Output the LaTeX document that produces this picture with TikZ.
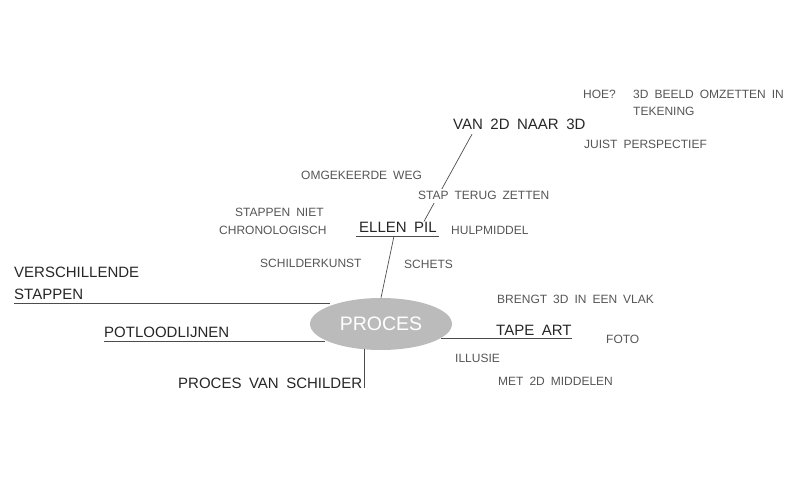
\documentclass[tikz,border=0pt]{standalone}
\usepackage{fontspec}
\setmainfont{Liberation Sans}[WordSpace=1.8]
\usetikzlibrary{shapes.geometric}
\definecolor{procesgrijs}{HTML}{BBBBBB}
\definecolor{notitiegrijs}{HTML}{555555}
\tikzset{
	tak/.style={inner sep=0pt,anchor=base west,font=\fontsize{15}{18}\selectfont,text=black!85},
	notitie/.style={inner sep=0pt,anchor=base west,font=\fontsize{12}{14}\selectfont,text=notitiegrijs},
	onder/.style={text depth=4pt},
	lijn/.style={draw=black!70,line width=0.7pt}
}

\begin{document}
\begin{tikzpicture}[x=1pt,y=-1pt]
	\useasboundingbox (0,0) rectangle (800,497);
	\node[ellipse,fill=procesgrijs,minimum width=142pt,minimum height=52pt,inner sep=0pt,text=white,font=\fontsize{19.5}{22}\selectfont] (proces) at (381,324) {PROCES};
	\node[tak,onder] (ellen) at (359,232) {ELLEN PIL};
	\node[tak,onder] (van) at (453,130) {VAN 2D NAAR 3D};
	\node[tak] (verschil) at (14,277) {VERSCHILLENDE};
	\node[tak,onder] (stappen) at (14,299) {STAPPEN};
	\node[tak,onder] (potlood) at (104,337) {POTLOODLIJNEN};
	\node[tak] (schilder) at (178,388) {PROCES VAN SCHILDER};
	\node[tak,onder] (tape) at (496,335) {TAPE ART};

	\node[notitie] (hoe) at (583,99) {HOE?};
	\node[notitie] (omzetten) at (633,99) {3D BEELD OMZETTEN IN};
	\node[notitie] (tekening) at (633,116) {TEKENING};
	\node[notitie] (juist) at (584,149) {JUIST PERSPECTIEF};
	\node[notitie] (omgekeerd) at (301,179) {OMGEKEERDE WEG};
	\node[notitie] (stappenniet) at (235,216) {STAPPEN NIET};
	\node[notitie] (chrono) at (219,234) {CHRONOLOGISCH};
	\node[notitie] (hulp) at (451,234) {HULPMIDDEL};
	\node[notitie] (kunst) at (260,267) {SCHILDERKUNST};
	\node[notitie] (schets) at (404,268) {SCHETS};
	\node[notitie] (brengt) at (497,303) {BRENGT 3D IN EEN VLAK};
	\node[notitie] (foto) at (606,343) {FOTO};
	\node[notitie] (illusie) at (455,362) {ILLUSIE};
	\node[notitie] (met2d) at (498,385) {MET 2D MIDDELEN};

	\draw[lijn] ([xshift=-3pt]ellen.south west) -- ([xshift=2pt]ellen.south east);
	\draw[lijn] ([xshift=-4pt]ellen.south) -- (proces.north);
	\draw[lijn] ([xshift=-13pt]ellen.north east) -- ([xshift=19pt]van.south west);
	\draw[lijn] (stappen.south west) -- (stappen.south west -| proces.160);
	\draw[lijn] (potlood.south west) -- (potlood.south west -| proces.196);
	\draw[lijn] (proces.-13) -- (proces.-13 -| tape.south east);
	\draw[lijn] (proces.236) -- (proces.236 |- schilder.base);

	\node[notitie,fill=white,inner ysep=3pt] (stap) at (418,200) {STAP TERUG ZETTEN};
\end{tikzpicture}
\end{document}
